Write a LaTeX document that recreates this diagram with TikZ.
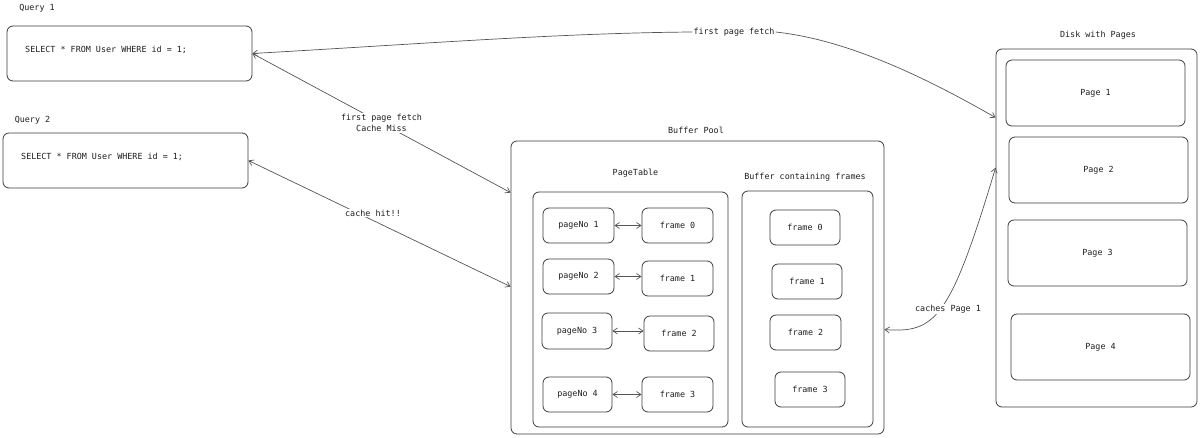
\documentclass[tikz,border=0pt]{standalone}
\usepackage{fontspec}
\newfontfamily\codefont{DejaVu Sans Mono}
\usetikzlibrary{arrows.meta,calc}
\definecolor{linec}{HTML}{3C3C3C}
\definecolor{connc}{HTML}{555555}
\definecolor{textc}{HTML}{1E1E1E}
\begin{document}
\begin{tikzpicture}[x=1pt,y=-1pt,
  txt/.style={font=\codefont\fontsize{8.4}{11}\selectfont, text=textc, inner sep=1pt},
  box/.style={txt, draw=linec, line width=0.8pt, rounded corners=6pt, inner sep=0pt},
  tip/.tip={Straight Barb[length=4.5pt,width=6pt]},
  conn/.style={draw=connc, line width=0.7pt},
  lbl/.style={txt, fill=white, align=center}]
\useasboundingbox (0,0) rectangle (1200,437);

% Queries
\node[txt] (lq1) at (37,8) {Query 1};
\node[box, minimum width=245pt, minimum height=55pt] (q1) at (129.5,53.5) {};
\node[txt, anchor=west] (q1t) at (24,50) {SELECT * FROM User WHERE id = 1;};
\node[txt] (lq2) at (32.5,120) {Query 2};
\node[box, minimum width=245pt, minimum height=55pt] (q2) at (125.5,160.5) {};
\node[txt, anchor=west] (q2t) at (20,157) {SELECT * FROM User WHERE id = 1;};

% Buffer pool
\node[txt] (lbp) at (696,130) {Buffer Pool};
\node[box, minimum width=373pt, minimum height=293pt] (bp) at (697.5,287.5) {};
\node[txt] (lpt) at (635.5,173) {PageTable};
\node[box, minimum width=195pt, minimum height=235pt] (pt) at (630.5,309.5) {};
\node[txt] (lbf) at (805,177) {Buffer containing frames};
\node[box, minimum width=131pt, minimum height=236pt] (bf) at (807.5,309) {};

\node[box, minimum width=71pt, minimum height=35pt] (p1) at (578.5,225.5) {pageNo 1};
\node[box, minimum width=71pt, minimum height=35pt] (f0) at (677.5,225.5) {frame 0};
\node[box, minimum width=71pt, minimum height=35pt] (p2) at (578.5,276.5) {pageNo 2};
\node[box, minimum width=71pt, minimum height=35pt] (f1) at (677.5,278.5) {frame 1};
\node[box, minimum width=70pt, minimum height=36pt] (p3) at (577,331) {pageNo 3};
\node[box, minimum width=70pt, minimum height=35pt] (f2) at (679,333.5) {frame 2};
\node[box, minimum width=69pt, minimum height=35pt] (p4) at (577.5,394.5) {pageNo 4};
\node[box, minimum width=71pt, minimum height=35pt] (f3) at (677.5,394.5) {frame 3};

\node[box, minimum width=70pt, minimum height=35pt] (b0) at (805,227.5) {frame 0};
\node[box, minimum width=70pt, minimum height=35pt] (b1) at (807,281.5) {frame 1};
\node[box, minimum width=71pt, minimum height=35pt] (b2) at (805.5,332.5) {frame 2};
\node[box, minimum width=70pt, minimum height=35pt] (b3) at (810,389.5) {frame 3};

% Disk
\node[txt] (ldisk) at (1098,35) {Disk with Pages};
\node[box, minimum width=201pt, minimum height=358pt] (disk) at (1096.5,228) {};
\node[box, minimum width=179pt, minimum height=66pt] (pg1) at (1095.5,93) {Page 1};
\node[box, minimum width=179pt, minimum height=66pt] (pg2) at (1098.5,170) {Page 2};
\node[box, minimum width=179pt, minimum height=66pt] (pg3) at (1097.5,253) {Page 3};
\node[box, minimum width=179pt, minimum height=66pt] (pg4) at (1100.5,347) {Page 4};

% pair arrows
\draw[conn, tip-tip] (p1.east) -- (f0.west |- p1.east);
\draw[conn, tip-tip] (p2.east) -- (f1.west |- p2.east);
\draw[conn, tip-tip] (p3.east) -- (f2.west |- p3.east);
\draw[conn, tip-tip] (p4.east) -- (f3.west |- p4.east);

% connector coordinates
\coordinate (dA) at ($(disk.north west)+(0,69)$);
\coordinate (dB) at ($(disk.north west)+(0,119)$);
\coordinate (bpA) at ($(bp.north west)+(0,52)$);
\coordinate (bpB) at ($(bp.north west)+(0,146)$);
\coordinate (bpC) at ($(bp.north east)+(0,189)$);

% first page fetch (query 1 <-> disk)
\node[lbl] (lA) at (734,32) {first page fetch};
\draw[conn, tip-] (q1.east) .. controls (420,44) and (560,33) .. (lA.west);
\draw[conn, -tip] (lA.east) .. controls (850,40) and (930,80) .. (dA);

% cache miss
\draw[conn, tip-tip] (q1.east) -- (bpA);
\node[lbl] (lB) at ($(q1.east)!0.5!(bpA)$) {first page fetch\\Cache Miss};

% cache hit
\draw[conn, tip-tip] (q2.east) -- (bpB);
\node[lbl] (lC) at (373,213) {cache hit!!};

% caches page 1
\draw[conn, tip-tip] (bpC) .. controls (935,333) and (950,320) .. (dB);
\node[lbl] (lD) at (948,309) {caches Page 1};
\end{tikzpicture}
\end{document}
